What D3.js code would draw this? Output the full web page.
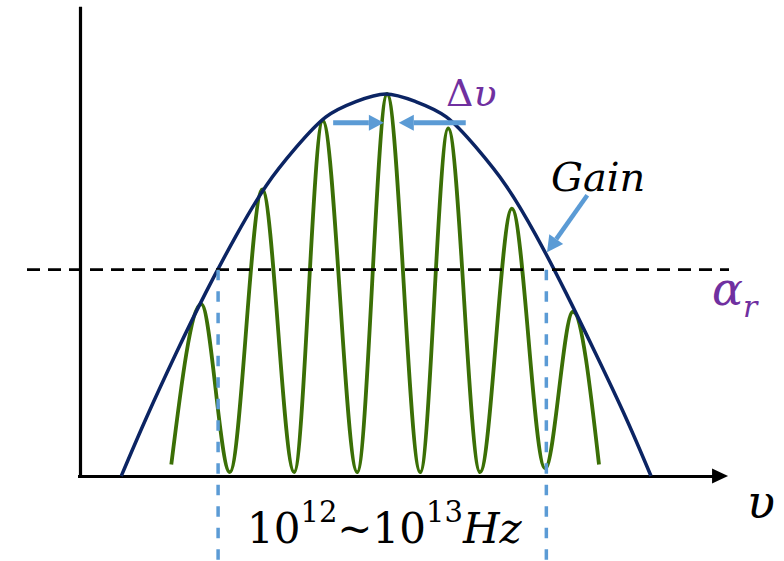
<!DOCTYPE html>
<html>
<head>
<meta charset="utf-8">
<script src="https://cdn.jsdelivr.net/npm/d3@7"></script>
<style>
  html, body { margin: 0; padding: 0; background: #ffffff; }
  svg { display: block; }
</style>
</head>
<body>
<svg id="chart" width="784" height="561"></svg>
<script>
// Gain envelope of the laser medium (relative frequency, relative gain)
const gainX = [0.65, 1.03, 1.49, 1.95, 2.42, 2.88, 3.34, 3.80, 4.26, 4.72, 5.18, 5.65, 6.11, 6.57, 7.03, 7.49, 7.95, 8.42, 8.80];
const gainY = [0.00, 0.15, 0.32, 0.48, 0.63, 0.76, 0.86, 0.94, 0.98, 1.00, 0.98, 0.94, 0.86, 0.76, 0.63, 0.48, 0.32, 0.15, 0.00];

// Longitudinal cavity modes: alternating peaks and troughs
const modeX = [1.42, 1.88, 2.32, 2.82, 3.31, 3.75, 4.28, 4.74, 5.25, 5.68, 6.17, 6.66, 7.17, 7.60, 8.00];
const modeY = [0.03, 0.45, 0.01, 0.75, 0.01, 0.93, 0.01, 1.00, 0.01, 0.91, 0.01, 0.70, 0.02, 0.43, 0.03];

// Loss threshold and the band where gain exceeds it
const lossThreshold = 0.54;
const bandEdges = [2.14, 7.19];

// Labels
const labelGain = "Gain";
const labelDelta = ["Δ", "υ"];
const labelAlpha = ["α", "r"];
const labelAxisX = "υ";
const labelBand = [["10", "base"], ["12", "sup"], ["~", "base"], ["10", "base"], ["13", "sup"], ["Hz", "ital"]];

const svg = d3.select("#chart");
const x = d3.scaleLinear().domain([0, 10]).range([79, 729]);
const y = d3.scaleLinear().domain([0, 1]).range([476, 94]);

const navy = "#0b2463", green = "#3b6f06", blue = "#5b9bd5", purple = "#7030a0";
const serif = "'DejaVu Serif', 'Liberation Serif', serif";

// Axes (no ticks, arrow on the frequency axis)
const xAxisEnd = 9.77;
const xLine = d3.scaleLinear().domain([0, xAxisEnd]).range([x(0) - 1.5, x(xAxisEnd)]);
const gx = svg.append("g").attr("transform", `translate(0,${y(0)})`)
  .call(d3.axisBottom(xLine).tickValues([]).tickSizeOuter(0));
gx.select(".domain").attr("stroke", "#000").attr("stroke-width", 3.2);
gx.append("path")
  .attr("d", `M${x(xAxisEnd) - 2},-7.5L${x(xAxisEnd) + 14},0L${x(xAxisEnd) - 2},7.5Z`)
  .attr("fill", "#000");

const yLine = d3.scaleLinear().domain([0, 1.23]).range([y(0) + 1.5, y(1.23)]);
const gy = svg.append("g").attr("transform", `translate(${x(0) + 1},0)`)
  .call(d3.axisLeft(yLine).tickValues([]).tickSizeOuter(0));
gy.select(".domain").attr("stroke", "#000").attr("stroke-width", 3.2);

// Cavity modes
const modes = d3.range(modeX.length).map(i => [modeX[i], modeY[i]]);
svg.append("path")
  .datum(modes)
  .attr("fill", "none")
  .attr("stroke", green)
  .attr("stroke-width", 3.8)
  .attr("d", d3.line().x(d => x(d[0])).y(d => y(d[1])).curve(d3.curveMonotoneX));

// Gain envelope
const gain = d3.range(gainX.length).map(i => [gainX[i], gainY[i]]);
svg.append("path")
  .datum(gain)
  .attr("fill", "none")
  .attr("stroke", navy)
  .attr("stroke-width", 3.5)
  .attr("d", d3.line().x(d => x(d[0])).y(d => y(d[1])).curve(d3.curveNatural));

// Threshold line
svg.append("line")
  .attr("x1", x(-0.8)).attr("x2", x(10))
  .attr("y1", y(lossThreshold)).attr("y2", y(lossThreshold))
  .attr("stroke", "#000").attr("stroke-width", 2.8)
  .attr("stroke-dasharray", "13,8");

// Band edges
svg.selectAll("line.edge")
  .data(bandEdges)
  .join("line")
  .attr("class", "edge")
  .attr("x1", d => x(d)).attr("x2", d => x(d))
  .attr("y1", y(lossThreshold)).attr("y2", 561)
  .attr("stroke", blue).attr("stroke-width", 3.5)
  .attr("stroke-dasharray", "10.5,11");

// Arrow helper: shaft plus filled triangular head at (x2, y2)
function arrow(x1, y1, x2, y2, width, headLen, headHalf) {
  const a = Math.atan2(y2 - y1, x2 - x1);
  const bx = x2 - headLen * Math.cos(a), by = y2 - headLen * Math.sin(a);
  const nx = -Math.sin(a) * headHalf, ny = Math.cos(a) * headHalf;
  const g = svg.append("g");
  g.append("line")
    .attr("x1", x1).attr("y1", y1).attr("x2", bx).attr("y2", by)
    .attr("stroke", blue).attr("stroke-width", width);
  g.append("path")
    .attr("d", `M${x2},${y2}L${bx + nx},${by + ny}L${bx - nx},${by - ny}Z`)
    .attr("fill", blue);
}

// Mode spacing arrows between the central mode and its neighbour
const arrowY = y(0.925);
arrow(x(3.91), arrowY, x(4.69), arrowY, 5, 15, 8);
arrow(x(5.95), arrowY, x(4.92), arrowY, 5, 15, 8);

// Pointer from the label to the gain curve
arrow(x(7.82), y(0.735), x(7.20), y(0.586), 4.5, 16, 8.5);

// Text labels
const dv = svg.append("text").attr("x", 446).attr("y", 106)
  .attr("fill", purple).attr("font-family", serif).attr("font-size", 38);
dv.append("tspan").text(labelDelta[0]);
dv.append("tspan").attr("font-style", "italic").text(labelDelta[1]);

svg.append("text").attr("x", 551).attr("y", 191)
  .attr("font-family", serif).attr("font-style", "italic").attr("font-size", 40)
  .attr("fill", "#000").text(labelGain);

const ar = svg.append("text").attr("x", 712).attr("y", 305)
  .attr("fill", purple).attr("font-family", serif).attr("font-style", "italic");
ar.append("tspan").attr("font-size", 46).text(labelAlpha[0]);
ar.append("tspan").attr("font-size", 30).attr("dy", 12).text(labelAlpha[1]);

svg.append("text").attr("x", 747).attr("y", 518)
  .attr("font-family", serif).attr("font-style", "italic").attr("font-size", 46)
  .attr("fill", "#000").text(labelAxisX);

const band = svg.append("text").attr("x", 247).attr("y", 543)
  .attr("font-family", serif).attr("fill", "#000");
let prev = "base";
labelBand.forEach(([t, kind]) => {
  const ts = band.append("tspan").text(t);
  if (kind === "sup") {
    ts.attr("font-size", 29).attr("dy", prev === "sup" ? 0 : -21);
  } else {
    ts.attr("font-size", 42).attr("dy", prev === "sup" ? 21 : 0);
    if (kind === "ital") ts.attr("font-style", "italic");
  }
  prev = kind;
});
</script>
</body>
</html>
